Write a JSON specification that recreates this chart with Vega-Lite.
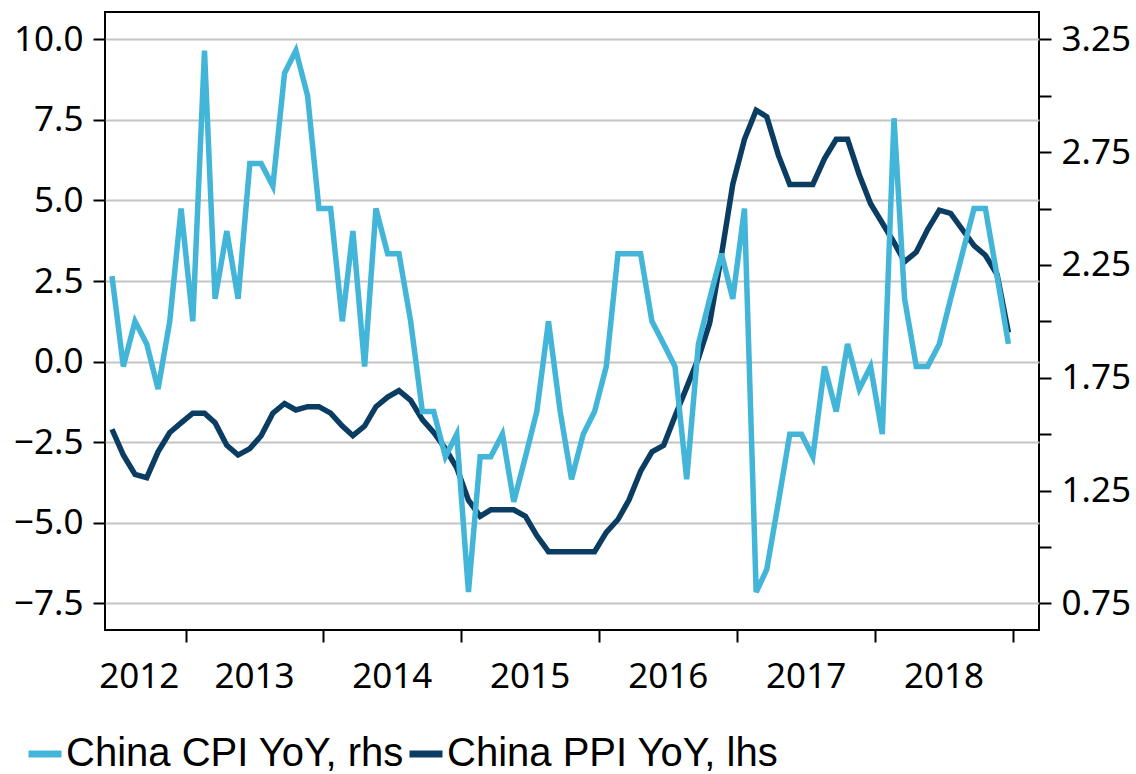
{
  "$schema": "https://vega.github.io/schema/vega-lite/v6.json",
  "width": 934,
  "height": 618,
  "autosize": "none",
  "padding": {"left": 105, "top": 12, "right": 97, "bottom": 144},
  "background": "#ffffff",
  "data": {
    "values": [
      {"date": "2012-06-20T00:00:00", "ppi": -2.1, "cpi": 2.2},
      {"date": "2012-07-20T00:00:00", "ppi": -2.9, "cpi": 1.8},
      {"date": "2012-08-20T00:00:00", "ppi": -3.5, "cpi": 2.0},
      {"date": "2012-09-20T00:00:00", "ppi": -3.6, "cpi": 1.9},
      {"date": "2012-10-20T00:00:00", "ppi": -2.8, "cpi": 1.7},
      {"date": "2012-11-20T00:00:00", "ppi": -2.2, "cpi": 2.0},
      {"date": "2012-12-20T00:00:00", "ppi": -1.9, "cpi": 2.5},
      {"date": "2013-01-20T00:00:00", "ppi": -1.6, "cpi": 2.0},
      {"date": "2013-02-20T00:00:00", "ppi": -1.6, "cpi": 3.2},
      {"date": "2013-03-20T00:00:00", "ppi": -1.9, "cpi": 2.1},
      {"date": "2013-04-20T00:00:00", "ppi": -2.6, "cpi": 2.4},
      {"date": "2013-05-20T00:00:00", "ppi": -2.9, "cpi": 2.1},
      {"date": "2013-06-20T00:00:00", "ppi": -2.7, "cpi": 2.7},
      {"date": "2013-07-20T00:00:00", "ppi": -2.3, "cpi": 2.7},
      {"date": "2013-08-20T00:00:00", "ppi": -1.6, "cpi": 2.6},
      {"date": "2013-09-20T00:00:00", "ppi": -1.3, "cpi": 3.1},
      {"date": "2013-10-20T00:00:00", "ppi": -1.5, "cpi": 3.2},
      {"date": "2013-11-20T00:00:00", "ppi": -1.4, "cpi": 3.0},
      {"date": "2013-12-20T00:00:00", "ppi": -1.4, "cpi": 2.5},
      {"date": "2014-01-20T00:00:00", "ppi": -1.6, "cpi": 2.5},
      {"date": "2014-02-20T00:00:00", "ppi": -2.0, "cpi": 2.0},
      {"date": "2014-03-20T00:00:00", "ppi": -2.3, "cpi": 2.4},
      {"date": "2014-04-20T00:00:00", "ppi": -2.0, "cpi": 1.8},
      {"date": "2014-05-20T00:00:00", "ppi": -1.4, "cpi": 2.5},
      {"date": "2014-06-20T00:00:00", "ppi": -1.1, "cpi": 2.3},
      {"date": "2014-07-20T00:00:00", "ppi": -0.9, "cpi": 2.3},
      {"date": "2014-08-20T00:00:00", "ppi": -1.2, "cpi": 2.0},
      {"date": "2014-09-20T00:00:00", "ppi": -1.8, "cpi": 1.6},
      {"date": "2014-10-20T00:00:00", "ppi": -2.2, "cpi": 1.6},
      {"date": "2014-11-20T00:00:00", "ppi": -2.7, "cpi": 1.4},
      {"date": "2014-12-20T00:00:00", "ppi": -3.3, "cpi": 1.5},
      {"date": "2015-01-20T00:00:00", "ppi": -4.3, "cpi": 0.8},
      {"date": "2015-02-20T00:00:00", "ppi": -4.8, "cpi": 1.4},
      {"date": "2015-03-20T00:00:00", "ppi": -4.6, "cpi": 1.4},
      {"date": "2015-04-20T00:00:00", "ppi": -4.6, "cpi": 1.5},
      {"date": "2015-05-20T00:00:00", "ppi": -4.6, "cpi": 1.2},
      {"date": "2015-06-20T00:00:00", "ppi": -4.8, "cpi": 1.4},
      {"date": "2015-07-20T00:00:00", "ppi": -5.4, "cpi": 1.6},
      {"date": "2015-08-20T00:00:00", "ppi": -5.9, "cpi": 2.0},
      {"date": "2015-09-20T00:00:00", "ppi": -5.9, "cpi": 1.6},
      {"date": "2015-10-20T00:00:00", "ppi": -5.9, "cpi": 1.3},
      {"date": "2015-11-20T00:00:00", "ppi": -5.9, "cpi": 1.5},
      {"date": "2015-12-20T00:00:00", "ppi": -5.9, "cpi": 1.6},
      {"date": "2016-01-20T00:00:00", "ppi": -5.3, "cpi": 1.8},
      {"date": "2016-02-20T00:00:00", "ppi": -4.9, "cpi": 2.3},
      {"date": "2016-03-20T00:00:00", "ppi": -4.3, "cpi": 2.3},
      {"date": "2016-04-20T00:00:00", "ppi": -3.4, "cpi": 2.3},
      {"date": "2016-05-20T00:00:00", "ppi": -2.8, "cpi": 2.0},
      {"date": "2016-06-20T00:00:00", "ppi": -2.6, "cpi": 1.9},
      {"date": "2016-07-20T00:00:00", "ppi": -1.7, "cpi": 1.8},
      {"date": "2016-08-20T00:00:00", "ppi": -0.8, "cpi": 1.3},
      {"date": "2016-09-20T00:00:00", "ppi": 0.1, "cpi": 1.9},
      {"date": "2016-10-20T00:00:00", "ppi": 1.2, "cpi": 2.1},
      {"date": "2016-11-20T00:00:00", "ppi": 3.3, "cpi": 2.3},
      {"date": "2016-12-20T00:00:00", "ppi": 5.5, "cpi": 2.1},
      {"date": "2017-01-20T00:00:00", "ppi": 6.9, "cpi": 2.5},
      {"date": "2017-02-20T00:00:00", "ppi": 7.8, "cpi": 0.8},
      {"date": "2017-03-20T00:00:00", "ppi": 7.6, "cpi": 0.9},
      {"date": "2017-04-20T00:00:00", "ppi": 6.4, "cpi": 1.2},
      {"date": "2017-05-20T00:00:00", "ppi": 5.5, "cpi": 1.5},
      {"date": "2017-06-20T00:00:00", "ppi": 5.5, "cpi": 1.5},
      {"date": "2017-07-20T00:00:00", "ppi": 5.5, "cpi": 1.4},
      {"date": "2017-08-20T00:00:00", "ppi": 6.3, "cpi": 1.8},
      {"date": "2017-09-20T00:00:00", "ppi": 6.9, "cpi": 1.6},
      {"date": "2017-10-20T00:00:00", "ppi": 6.9, "cpi": 1.9},
      {"date": "2017-11-20T00:00:00", "ppi": 5.8, "cpi": 1.7},
      {"date": "2017-12-20T00:00:00", "ppi": 4.9, "cpi": 1.8},
      {"date": "2018-01-20T00:00:00", "ppi": 4.3, "cpi": 1.5},
      {"date": "2018-02-20T00:00:00", "ppi": 3.7, "cpi": 2.9},
      {"date": "2018-03-20T00:00:00", "ppi": 3.1, "cpi": 2.1},
      {"date": "2018-04-20T00:00:00", "ppi": 3.4, "cpi": 1.8},
      {"date": "2018-05-20T00:00:00", "ppi": 4.1, "cpi": 1.8},
      {"date": "2018-06-20T00:00:00", "ppi": 4.7, "cpi": 1.9},
      {"date": "2018-07-20T00:00:00", "ppi": 4.6, "cpi": 2.1},
      {"date": "2018-08-20T00:00:00", "ppi": 4.1, "cpi": 2.3},
      {"date": "2018-09-20T00:00:00", "ppi": 3.6, "cpi": 2.5},
      {"date": "2018-10-20T00:00:00", "ppi": 3.3, "cpi": 2.5},
      {"date": "2018-11-20T00:00:00", "ppi": 2.7, "cpi": 2.2},
      {"date": "2018-12-20T00:00:00", "ppi": 0.9, "cpi": 1.9}
    ]
  },
  "layer": [
    {
      "mark": {"type": "line", "strokeWidth": 5.5, "strokeCap": "butt"},
      "encoding": {
        "x": {
          "field": "date",
          "type": "temporal",
          "scale": {"domain": [{"year": 2012, "month": 6, "date": 1, "hours": 12}, {"year": 2019, "month": 3, "date": 11}]},
          "axis": {
            "orient": "bottom",
            "title": null,
            "labels": false,
            "ticks": true,
            "tickSize": 12,
            "tickWidth": 2,
            "tickColor": "#000000",
            "domain": false,
            "grid": false,
            "values": [
              {"year": 2013, "month": 1, "date": 1},
              {"year": 2014, "month": 1, "date": 1},
              {"year": 2015, "month": 1, "date": 1},
              {"year": 2016, "month": 1, "date": 1},
              {"year": 2017, "month": 1, "date": 1},
              {"year": 2018, "month": 1, "date": 1},
              {"year": 2019, "month": 1, "date": 1}
            ]
          }
        },
        "y": {
          "field": "ppi",
          "type": "quantitative",
          "scale": {"domain": [-8.33, 10.85], "nice": false, "zero": false},
          "axis": {
            "orient": "left",
            "title": null,
            "values": [-7.5, -5, -2.5, 0, 2.5, 5, 7.5, 10],
            "format": ".1f",
            "grid": true,
            "gridColor": "#c4c4c4",
            "gridWidth": 2,
            "domain": false,
            "tickSize": 12,
            "tickWidth": 2,
            "tickColor": "#000000",
            "labelPadding": 10,
            "labelFont": "Noto Sans",
            "labelFontSize": 35,
            "labelColor": "#000000"
          }
        },
        "color": {
          "datum": "China PPI YoY, lhs",
          "type": "nominal",
          "scale": {"domain": ["China CPI YoY, rhs", "China PPI YoY, lhs"], "range": ["#43b5d8", "#0b3d63"]}
        }
      }
    },
    {
      "mark": {"type": "line", "strokeWidth": 5.5, "strokeCap": "butt"},
      "encoding": {
        "x": {
          "field": "date",
          "type": "temporal",
          "axis": {
            "orient": "bottom",
            "title": null,
            "ticks": false,
            "domain": false,
            "grid": false,
            "format": "%Y",
            "labelOverlap": false,
            "labelFlush": false,
            "labelPadding": 29,
            "labelFont": "Noto Sans",
            "labelFontSize": 35,
            "labelColor": "#000000",
            "values": [
              {"year": 2012, "month": 8, "date": 30},
              {"year": 2013, "month": 7, "date": 1},
              {"year": 2014, "month": 7, "date": 1},
              {"year": 2015, "month": 7, "date": 1},
              {"year": 2016, "month": 7, "date": 1},
              {"year": 2017, "month": 7, "date": 1},
              {"year": 2018, "month": 7, "date": 1}
            ]
          }
        },
        "y": {
          "field": "cpi",
          "type": "quantitative",
          "scale": {"domain": [0.632, 3.371], "nice": false, "zero": false},
          "axis": {
            "orient": "right",
            "title": null,
            "values": [0.75, 1, 1.25, 1.5, 1.75, 2, 2.25, 2.5, 2.75, 3, 3.25],
            "labelExpr": "(datum.value * 4) % 2 == 1 ? format(datum.value, '.2f') : ''",
            "grid": false,
            "domain": false,
            "tickSize": 12,
            "tickWidth": 2,
            "tickColor": "#000000",
            "labelPadding": 10,
            "labelFont": "Noto Sans",
            "labelFontSize": 35,
            "labelColor": "#000000"
          }
        },
        "color": {
          "datum": "China CPI YoY, rhs",
          "type": "nominal",
          "scale": {"domain": ["China CPI YoY, rhs", "China PPI YoY, lhs"], "range": ["#43b5d8", "#0b3d63"]}
        }
      }
    }
  ],
  "resolve": {"scale": {"y": "independent"}, "axis": {"x": "independent", "y": "independent"}},
  "config": {
    "view": {"stroke": "#000000", "strokeWidth": 2},
    "legend": {
      "orient": "none",
      "legendX": -80,
      "legendY": 722,
      "direction": "horizontal",
      "title": null,
      "padding": 0,
      "labelFont": "Liberation Sans",
      "labelFontSize": 40,
      "labelColor": "#000000",
      "labelLimit": 600,
      "labelOffset": 1,
      "columnPadding": -9,
      "symbolType": "stroke",
      "symbolStrokeWidth": 7,
      "symbolSize": 1089
    }
  }
}
